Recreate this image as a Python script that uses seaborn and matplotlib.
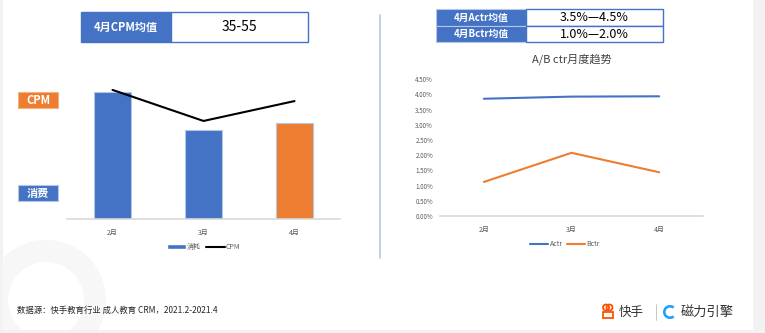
import matplotlib
matplotlib.use("Agg")
import matplotlib.pyplot as plt
import seaborn as sns
import pandas as pd
from matplotlib.patches import Rectangle, Patch, Circle, Wedge
from matplotlib.lines import Line2D

sns.set_theme(style="white")
plt.rcParams['font.family'] = ['Noto Sans CJK SC', 'DejaVu Sans']

# ---- data ----
months = ["2月", "3月", "4月"]
spend = [133, 93, 100]            # 消耗
cpm = [57.8, 43.9, 52.8]          # CPM
actr = [0.0386, 0.0393, 0.0394]   # Actr
bctr = [0.0112, 0.0208, 0.0144]   # Bctr
ctr_ticks = [0, 0.005, 0.01, 0.015, 0.02, 0.025, 0.03, 0.035, 0.04, 0.045]

cpm_avg_label = "4月CPM均值"
cpm_avg_value = "35-55"
ctr_avg_labels = ["4月Actr均值", "4月Bctr均值"]
ctr_avg_values = ["3.5%—4.5%", "1.0%—2.0%"]
source_text = "数据源：快手教育行业 成人教育 CRM，2021.2-2021.4"

BLUE = "#4472C4"
ORANGE = "#ED7D31"
GRID = "#D9D9D9"
TXT = "#595959"

W, H = 765, 333
fig = plt.figure(figsize=(W / 100, H / 100), dpi=100)
fig.patch.set_facecolor("white")

# full-figure overlay in pixel coordinates for the decorations
bg = fig.add_axes([0, 0, 1, 1], zorder=0)
bg.set_xlim(0, W)
bg.set_ylim(H, 0)
bg.axis("off")

# faint watermark ring
bg.add_patch(Wedge((46, 300), 60, 0, 360, width=22, color="#F7F7F7", lw=0))

# slide edges
bg.add_patch(Rectangle((753, 0), 12, H, color="#F2F2F2", lw=0))
bg.add_patch(Rectangle((0, 0), 3, H, color="#F2F2F2", lw=0))
bg.add_patch(Rectangle((0, 330), W, 3, color="#F2F2F2", lw=0))

# divider
bg.plot([380, 380], [15, 258], color="#B4C7E7", lw=1.2)


def px_axes(x0, y0, x1, y1):
    return fig.add_axes([x0 / W, 1 - y1 / H, (x1 - x0) / W, (y1 - y0) / H], zorder=2)


# ---- CPM table ----
bg.add_patch(Rectangle((81, 12), 90, 30, facecolor=BLUE, edgecolor=BLUE, lw=1))
bg.add_patch(Rectangle((171, 12), 137, 30, facecolor="white", edgecolor=BLUE, lw=1))
bg.text(126, 27, cpm_avg_label, color="white", fontsize=8, fontweight="bold", ha="center", va="center")
bg.text(239.5, 27, cpm_avg_value, color="black", fontsize=10, ha="center", va="center")

# ---- side tags ----
bg.add_patch(Rectangle((18, 92), 40, 16, facecolor=ORANGE, edgecolor="#F4B183", lw=0.8))
bg.text(38, 100, "CPM", color="white", fontsize=8, fontweight="bold", ha="center", va="center")
bg.add_patch(Rectangle((18, 185), 40, 16, facecolor=BLUE, edgecolor="#B4C7E7", lw=0.8))
bg.text(38, 193, "消费", color="white", fontsize=8, fontweight="bold", ha="center", va="center")

# ---- ctr table ----
for i, (lab, val) in enumerate(zip(ctr_avg_labels, ctr_avg_values)):
    y0 = 9 + i * 16.5
    bg.add_patch(Rectangle((436, y0), 90, 16.5, facecolor=BLUE, edgecolor="#B4C7E7", lw=0.8))
    bg.add_patch(Rectangle((526, y0), 137, 16.5, facecolor="white", edgecolor=BLUE, lw=1))
    bg.text(481, y0 + 8.5, lab, color="white", fontsize=7, fontweight="bold", ha="center", va="center")
    bg.text(594.5, y0 + 8.5, val, color="black", fontsize=9, ha="center", va="center")

# ---- left chart: spend bars + CPM line ----
axL = px_axes(67, 85, 340, 219)
axL.patch.set_alpha(0)
df = pd.DataFrame({"月份": months, "消耗": spend, "CPM": cpm})
sns.barplot(data=df, x="月份", y="消耗", hue="月份", palette=[BLUE, BLUE, ORANGE], saturation=1,
            width=0.4, legend=False, ax=axL, edgecolor=["#B4C7E7", "#B4C7E7", "#F4B183"], linewidth=0.8)
axL.set_ylim(0, 140)
axL.set_xlim(-0.5, 2.5)
axL.set_yticks([])
axL.set_xlabel("")
axL.set_ylabel("")
for s in ["top", "right", "left"]:
    axL.spines[s].set_visible(False)
axL.spines["bottom"].set_color(GRID)
axL.spines["bottom"].set_linewidth(1.2)
axL.tick_params(axis="x", length=0, labelsize=5, labelcolor=TXT, pad=7)

axR2 = axL.twinx()
sns.lineplot(data=df, x="月份", y="CPM", color="black", lw=1.5, ax=axR2, sort=False)
axR2.set_ylim(0, 60)
axR2.set_yticks([])
axR2.set_ylabel("")
for s in axR2.spines.values():
    s.set_visible(False)

leg_handles = [Patch(facecolor=BLUE, label="消耗"), Line2D([], [], color="black", lw=1.5, label="CPM")]
fig.legend(handles=leg_handles, loc="center", bbox_to_anchor=(204 / W, 1 - 247 / H), ncol=2,
           frameon=False, fontsize=5, handlelength=2.6, handleheight=0.6, columnspacing=0.8,
           handletextpad=0.2, labelcolor=TXT)

# ---- right chart: ctr trend ----
axC = px_axes(440, 79.3, 703, 216)
axC.patch.set_alpha(0)
dc = pd.DataFrame({"月份": months * 2, "ctr": actr + bctr, "类型": ["Actr"] * 3 + ["Bctr"] * 3})
sns.lineplot(data=dc, x="月份", y="ctr", hue="类型", palette=[BLUE, ORANGE], lw=1.5, ax=axC,
             sort=False, legend=False)
axC.set_xlim(-0.5, 2.5)
axC.set_ylim(0, 0.045)
axC.set_yticks(ctr_ticks)
axC.set_yticklabels([f"{t * 100:.2f}%" for t in ctr_ticks])
axC.set_xlabel("")
axC.set_ylabel("")
for s in ["top", "right", "left"]:
    axC.spines[s].set_visible(False)
axC.spines["bottom"].set_color(GRID)
axC.spines["bottom"].set_linewidth(1.2)
axC.tick_params(axis="x", length=0, labelsize=5, labelcolor=TXT, pad=7)
axC.tick_params(axis="y", length=0, labelsize=4.5, labelcolor=TXT, pad=5)
axC.set_title("A/B ctr月度趋势", fontsize=8, color="#404040", pad=12)

leg2 = [Line2D([], [], color=BLUE, lw=1.5, label="Actr"), Line2D([], [], color=ORANGE, lw=1.5, label="Bctr")]
fig.legend(handles=leg2, loc="center", bbox_to_anchor=(565 / W, 1 - 244 / H), ncol=2,
           frameon=False, fontsize=5, handlelength=2.6, columnspacing=0.6,
           handletextpad=0.2, labelcolor=TXT)

# ---- footer ----
bg.text(17, 310, source_text, fontsize=6, color="#262626", ha="left", va="center")
# 快手 mark
bg.add_patch(Circle((606, 307.5), 3.0, fill=False, edgecolor="#FF5000", lw=1.3))
bg.add_patch(Circle((609.5, 307.5), 3.0, fill=False, edgecolor="#FF5000", lw=1.3))
bg.add_patch(Rectangle((603.5, 312), 10, 6, fill=False, edgecolor="#FF5000", lw=1.3))
bg.text(619, 312, "快手", fontsize=9, color="#333333", ha="left", va="center")
bg.plot([656, 656], [304, 320], color="#BFBFBF", lw=0.6)
# 磁力引擎 mark
bg.add_patch(Wedge((670, 312), 7, 50, 310, width=2.6, color="#1EA0FF", lw=0))
bg.text(681, 312, "磁力引擎", fontsize=9.5, color="#333333", ha="left", va="center")

fig.savefig("out.png", dpi=100)
